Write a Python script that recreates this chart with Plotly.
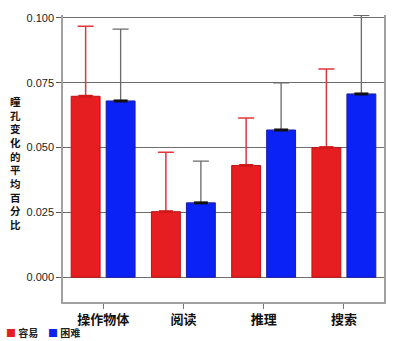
import plotly.graph_objects as go

# Task categories and per-condition pupil dilation (mean proportion change)
categories = ["操作物体", "阅读", "推理", "搜索"]
easy_mean = [0.0698, 0.0253, 0.0431, 0.0500]
easy_err = [0.0270, 0.0229, 0.0183, 0.0303]
hard_mean = [0.0680, 0.0287, 0.0568, 0.0707]
hard_err = [0.0277, 0.0161, 0.0182, 0.0303]
y_ticks = [0.0, 0.025, 0.05, 0.075, 0.1]
y_title = "瞳孔变化的平均百分比"
legend_names = ["容易", "困难"]

RED = "#e61e22"
BLUE = "#0a22f5"

W, H = 400, 341
ML, MR, MT, MB = 63, 16, 12, 39
Y0, Y1 = -0.00954, 0.10115

fig = go.Figure()

fig.add_trace(go.Bar(
    x=categories, y=easy_mean, name=legend_names[0], offsetgroup="easy",
    marker=dict(color=RED, line=dict(color="#b51515", width=1)),
    error_y=dict(type="data", symmetric=False, array=easy_err,
                 arrayminus=[0] * len(easy_err), color="#e2363a",
                 thickness=1.5, width=8),
))
fig.add_trace(go.Bar(
    x=categories, y=hard_mean, name=legend_names[1], offsetgroup="hard",
    marker=dict(color=BLUE, line=dict(color="#1a1ab0", width=1)),
    error_y=dict(type="data", symmetric=False, array=hard_err,
                 arrayminus=[0] * len(hard_err), color="#6a6a6a",
                 thickness=1.3, width=8),
))

# small caps sitting on each bar top
fig.add_trace(go.Scatter(
    x=categories, y=easy_mean, mode="markers", offsetgroup="easy",
    marker=dict(symbol="line-ew", size=10, line=dict(color="#d01818", width=3)),
    hoverinfo="skip", showlegend=False,
))
fig.add_trace(go.Scatter(
    x=categories, y=hard_mean, mode="markers", offsetgroup="hard",
    marker=dict(symbol="line-ew", size=10, line=dict(color="#111111", width=3)),
    hoverinfo="skip", showlegend=False,
))

plot_w = W - ML - MR
plot_h = H - MT - MB


def px_to_paper(px, py):
    return (px - ML) / plot_w, (H - MB - py) / plot_h


annotations = []
# axis title written top-to-bottom, one character per line
tx, ty = px_to_paper(15, 162)
annotations.append(dict(
    text="<br>".join(y_title), x=tx, y=ty, xref="paper", yref="paper",
    showarrow=False, xanchor="center", yanchor="middle", align="center",
    font=dict(family="Noto Sans CJK SC", size=10.5, color="#111", weight="bold"),
))

# legend entries
for (lx, name, col) in [(4, legend_names[0], RED), (46, legend_names[1], BLUE)]:
    ax, ay = px_to_paper(lx, 333)
    annotations.append(dict(
        text=f"<span style='color:{col}'>■</span> {name}", x=ax, y=ay,
        xref="paper", yref="paper", showarrow=False, xanchor="left", yanchor="middle",
        font=dict(family="Noto Sans CJK SC", size=10, color="#222", weight="bold"),
    ))

fig.update_layout(
    width=W, height=H,
    margin=dict(l=ML, r=MR, t=MT, b=MB, pad=0),
    paper_bgcolor="white", plot_bgcolor="white",
    barmode="group", bargap=0.128, bargroupgap=0.174,
    scattermode="group", scattergap=0.128,
    showlegend=False,
    annotations=annotations,
    xaxis=dict(
        type="category", range=[-0.5, 3.5],
        showline=True, linecolor="#a0a0a0", linewidth=1.5,
        ticks="outside", ticklen=5, tickcolor="#777", tickwidth=1,
        showgrid=False,
        tickfont=dict(family="Noto Sans CJK SC", size=13, color="#111", weight="bold"),
    ),
    yaxis=dict(
        range=[Y0, Y1], tickvals=y_ticks, tickformat=".3f",
        showline=True, linecolor="#a0a0a0", linewidth=1.5, mirror=True,
        ticks="outside", ticklen=5, tickcolor="#555", tickwidth=1,
        showgrid=True, gridcolor="#6e6e6e", gridwidth=1,
        zeroline=True, zerolinecolor="#6e6e6e", zerolinewidth=1,
        tickfont=dict(family="Liberation Sans", size=11, color="#222"),
    ),
)

fig.write_html("out.html")
